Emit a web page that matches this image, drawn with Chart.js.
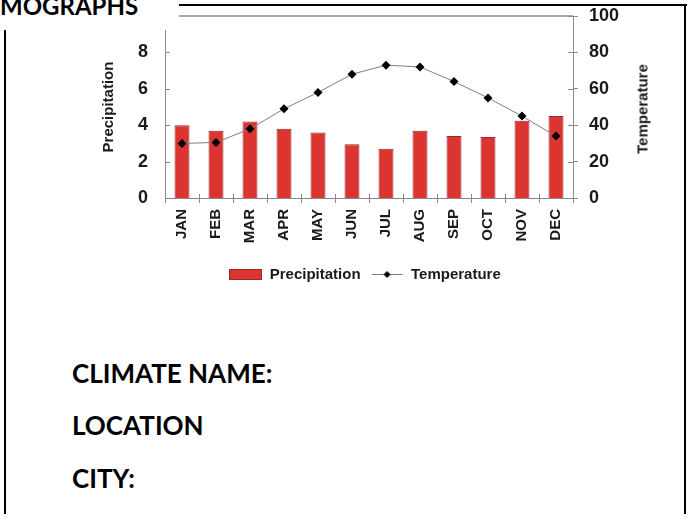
<!DOCTYPE html>
<html>
<head>
<meta charset="utf-8">
<script src="https://cdn.jsdelivr.net/npm/chart.js@4/dist/chart.umd.min.js"></script>
<style>
  html, body { margin: 0; padding: 0; background: #fff; }
  body { width: 687px; height: 514px; position: relative; overflow: hidden; font-family: Lato, "Open Sans", sans-serif; color: #000; }
  #chartBox { position: absolute; left: 43px; top: 0; width: 644px; height: 292px; }
  .rule { position: absolute; background: #000; }
  #heading { position: absolute; left: 0; top: 0; width: 179px; height: 30px; background: #fff; overflow: hidden; z-index: 2; }
  #heading span { position: absolute; left: 0; top: -6px; font: bold 24px Lato, sans-serif; line-height: 1; white-space: nowrap; }
  .field { position: absolute; left: 72px; font: bold 26px Lato, sans-serif; line-height: 1; white-space: nowrap; }
  #tempTitle { position: absolute; left: 642px; top: 109px; transform: translate(-50%, -50%) rotate(-90deg);
               font: bold 15px "Liberation Sans", Arial, sans-serif; color: #1a1a1a; white-space: nowrap; }
</style>
</head>
<body>
<div id="chartBox"><canvas id="climograph" width="644" height="292"></canvas></div>
<div id="tempTitle">Temperature</div>

<div id="heading"><span>MOGRAPHS</span></div>
<div class="rule" style="left:179px; top:4px; width:508px; height:2px;"></div>
<div class="rule" style="left:684px; top:4px; width:2px; height:510px;"></div>
<div class="rule" style="left:4px; top:30px; width:2px; height:484px;"></div>

<div class="field" style="top:360px;">CLIMATE NAME:</div>
<div class="field" style="top:412px;">LOCATION</div>
<div class="field" style="top:465px;">CITY:</div>

<script>
// Monthly climate data
const months = ['JAN', 'FEB', 'MAR', 'APR', 'MAY', 'JUN', 'JUL', 'AUG', 'SEP', 'OCT', 'NOV', 'DEC'];
const precipitation = [4.0, 3.7, 4.2, 3.8, 3.6, 2.95, 2.7, 3.7, 3.4, 3.35, 4.25, 4.5];
const temperature = [30, 30.5, 38, 49, 58, 68, 73, 72, 64, 55, 45, 34];

// Axis tick values
const precipTicks = [0, 2, 4, 6, 8, 10];
const tempTicks = [0, 20, 40, 60, 80, 100];

const BAR_FILL = '#dc3431';
const BAR_EDGE = '#962a2a';
const LINE_GREY = '#7f7f7f';
const AXIS_GREY = '#8a8a8a';
const TEXT = '#1a1a1a';
const ARIAL = '"Liberation Sans", Arial, sans-serif';

// Small canvases used as legend symbols
function glyph(draw) {
  const c = document.createElement('canvas');
  c.width = 33; c.height = 11;
  draw(c.getContext('2d'));
  return c;
}
const barGlyph = glyph(g => {
  g.fillStyle = BAR_FILL; g.fillRect(0.5, 0.5, 32, 10);
  g.strokeStyle = BAR_EDGE; g.lineWidth = 1; g.strokeRect(0.5, 0.5, 32, 10);
});
const lineGlyph = glyph(g => {
  g.strokeStyle = LINE_GREY; g.lineWidth = 1;
  g.beginPath(); g.moveTo(1, 5.5); g.lineTo(32, 5.5); g.stroke();
  g.fillStyle = '#000';
  g.beginPath(); g.moveTo(16.5, 2); g.lineTo(20, 5.5); g.lineTo(16.5, 9); g.lineTo(13, 5.5); g.closePath(); g.fill();
});

// Tick marks that cross each axis line
const crossTicks = {
  id: 'crossTicks',
  afterDatasetsDraw(chart) {
    const { ctx } = chart;
    const { x, y, y1 } = chart.scales;
    ctx.save();
    ctx.strokeStyle = AXIS_GREY;
    ctx.lineWidth = 1;
    ctx.beginPath();
    for (let i = 0; i <= months.length; i++) {
      const px = Math.round(x.getPixelForValue(i - 0.5)) + 0.5;
      ctx.moveTo(px, x.top - 4); ctx.lineTo(px, x.top);
    }
    y.ticks.forEach(t => {
      const py = Math.round(y.getPixelForValue(t.value)) + 0.5;
      ctx.moveTo(y.right, py); ctx.lineTo(y.right + 5, py);
    });
    y1.ticks.forEach(t => {
      const py = Math.round(y1.getPixelForValue(t.value)) + 0.5;
      ctx.moveTo(y1.left - 5, py); ctx.lineTo(y1.left, py);
    });
    ctx.stroke();
    ctx.restore();
  }
};

// Fixed axis box sizes so the plot area sits at a set place
function fitVertical(width) {
  return s => { s.width = width; s.paddingTop = 0; s.paddingBottom = 0; };
}

new Chart(document.getElementById('climograph'), {
  data: {
    labels: months,
    datasets: [
      {
        type: 'line',
        label: 'Temperature',
        data: temperature,
        yAxisID: 'y1',
        borderColor: LINE_GREY,
        borderWidth: 1,
        pointStyle: 'rectRot',
        pointRadius: 4.5,
        pointBackgroundColor: '#000',
        pointBorderColor: '#000',
        pointBorderWidth: 0,
        tension: 0,
        order: 0
      },
      {
        type: 'bar',
        label: 'Precipitation',
        data: precipitation,
        yAxisID: 'y',
        backgroundColor: BAR_FILL,
        borderColor: BAR_EDGE,
        borderWidth: 1,
        categoryPercentage: 1,
        barPercentage: 0.44,
        order: 1
      }
    ]
  },
  options: {
    responsive: false,
    animation: false,
    layout: { padding: { top: 16, left: 0, right: 0, bottom: 0 } },
    plugins: {
      tooltip: { enabled: false },
      legend: {
        position: 'bottom',
        labels: {
          usePointStyle: true,
          pointStyleWidth: 33,
          padding: 10,
          color: TEXT,
          font: { family: ARIAL, size: 15, weight: 'bold' },
          generateLabels: () => [
            { text: 'Precipitation', pointStyle: barGlyph, datasetIndex: 1, hidden: false, lineWidth: 0, fontColor: TEXT },
            { text: 'Temperature', pointStyle: lineGlyph, datasetIndex: 0, hidden: false, lineWidth: 0, fontColor: TEXT }
          ]
        }
      }
    },
    scales: {
      x: {
        offset: true,
        grid: { display: true, drawOnChartArea: false, offset: true, tickLength: 5, color: AXIS_GREY, tickColor: AXIS_GREY },
        border: { display: true, color: AXIS_GREY, width: 1 },
        ticks: { maxRotation: 90, minRotation: 90, padding: 6, color: TEXT, font: { family: ARIAL, size: 15, weight: 'bold' } },
        afterFit: s => { s.height = 59; }
      },
      y: {
        position: 'left',
        min: 0, max: 10,
        afterBuildTicks: s => { s.ticks = precipTicks.map(v => ({ value: v })); },
        grid: {
          drawOnChartArea: true, tickLength: 5, tickColor: AXIS_GREY,
          color: c => (c.tick && c.tick.value === 10 ? '#a6a6a6' : 'rgba(0,0,0,0)'),
          lineWidth: c => (c.tick && c.tick.value === 10 ? 2 : 0)
        },
        border: { display: true, color: AXIS_GREY, width: 1 },
        ticks: { padding: 12, color: TEXT, font: { family: ARIAL, size: 18, weight: 'bold' } },
        title: { display: true, text: 'Precipitation', color: TEXT, font: { family: ARIAL, size: 15, weight: 'bold' }, padding: { top: 57, bottom: 0 } },
        afterFit: fitVertical(122)
      },
      y1: {
        position: 'right',
        min: 0, max: 100,
        afterBuildTicks: s => { s.ticks = tempTicks.map(v => ({ value: v })); },
        grid: { drawOnChartArea: false, tickLength: 5, color: AXIS_GREY, tickColor: AXIS_GREY },
        border: { display: true, color: AXIS_GREY, width: 1 },
        ticks: { padding: 11, color: TEXT, font: { family: ARIAL, size: 18, weight: 'bold' } },
        afterFit: fitVertical(114)
      }
    }
  },
  plugins: [crossTicks]
});
</script>
</body>
</html>
